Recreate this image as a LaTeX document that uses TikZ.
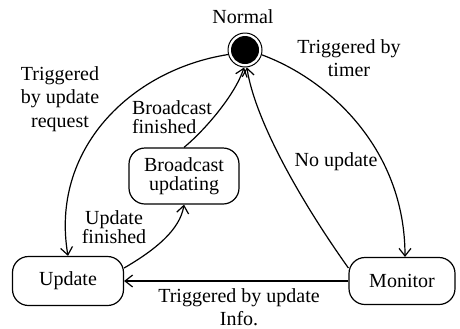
\documentclass[tikz,border=0pt]{standalone}
\usepackage{fontspec}
\setmainfont{Liberation Serif}
\usetikzlibrary{arrows.meta}
\tikzstyle{state}=[draw, rounded corners=8pt, align=center, inner sep=0pt, line width=0.6pt]
\tikzstyle{lbl}=[align=center, inner sep=0pt, font=\fontsize{10}{11.7}\selectfont]
\tikzstyle{lbltight}=[align=center, inner sep=0pt, font=\fontsize{10}{9.6}\selectfont]
\tikzstyle{trans}=[line width=0.6pt, -{Straight Barb[length=3.8pt,width=6pt]}]

\begin{document}
\begin{tikzpicture}[x=0.5pt, y=-0.5pt, font=\fontsize{10}{9.6}\selectfont]
	\useasboundingbox (0,0) rectangle (460,328);
	% states
	\node [circle, draw, line width=0.5pt, minimum size=17pt, inner sep=0pt] (normal) at (245,50) {};
	\fill (normal.center) circle (7pt);
	\node [lbl] (normaltxt) at (243,17) {Normal};
	\node [state, minimum width=55.5pt, minimum height=24.5pt] (upd) at (68,281) {Update};
	\node [state, minimum width=53pt, minimum height=23.5pt] (mon) at (402,281) {Monitor};
	\node [state, minimum width=55pt, minimum height=28pt] (bcast) at (184,176) {Broadcast\\updating};
	% labels
	\node [lbl] (l1) at (60,99) {Triggered\\by update\\request};
	\node [lbl] (l2) at (349,58) {Triggered by\\timer};
	\node [lbltight, align=left] (l3) at (172,117) {Broadcast\\finished};
	\node [lbltight] (l4) at (114,227) {Update\\finished};
	\node [lbl] (l5) at (336,162) {No update};
	\node [lbl] (l6) at (239,307) {Triggered by update\\Info.};
	% transitions
	\draw [trans] (normal.195) .. controls (130,70) and (50,150) .. (upd.north);
	\draw [trans] (normal.-16) .. controls (330,80) and (405,150) .. ([xshift=1.5pt]mon.north);
	\draw [trans] ([yshift=6.5pt]mon.west) .. controls (300,200) and (255,120) .. (normal.-84);
	\draw [trans] (mon.west) -- (upd.east);
	\draw [trans] ([yshift=6.5pt]upd.east) .. controls (155,250) and (180,230) .. (bcast.south);
	\draw [trans] (bcast.north) .. controls (205,130) and (235,95) .. (normal.-93);
\end{tikzpicture}
\end{document}
